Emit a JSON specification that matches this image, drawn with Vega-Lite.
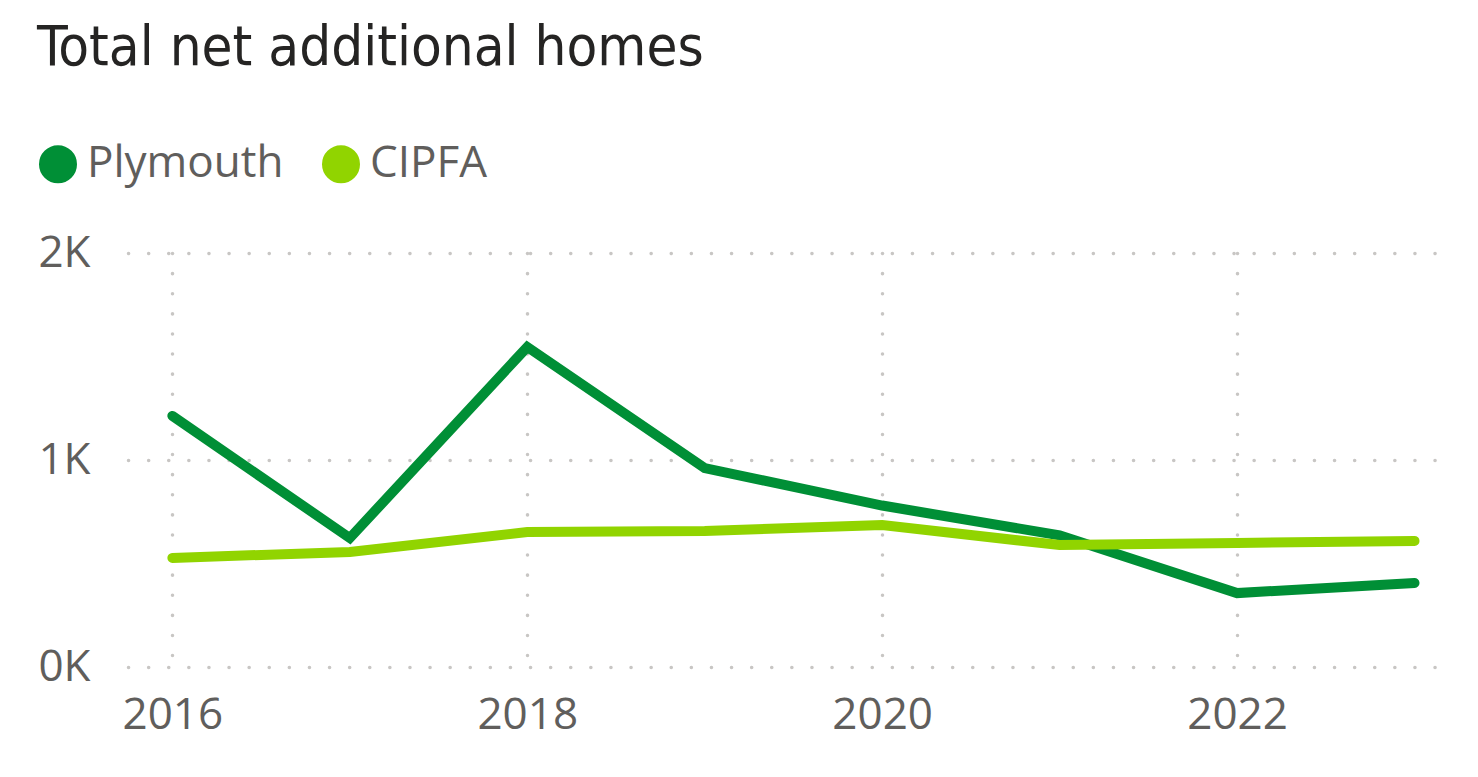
{
  "$schema": "https://vega.github.io/schema/vega-lite/v6.json",
  "width": 1322,
  "height": 414,
  "autosize": {"type": "none"},
  "padding": {"left": 128, "top": 253, "right": 28, "bottom": 110},
  "background": "#ffffff",
  "title": {
    "text": "Total net additional homes",
    "anchor": "start",
    "frame": "group",
    "font": "DejaVu Sans Condensed",
    "fontSize": 56,
    "fontWeight": "normal",
    "color": "#252423",
    "baseline": "alphabetic",
    "offset": 21,
    "dx": -91
  },
  "config": {
    "view": {"stroke": null},
    "axis": {
      "labelFont": "Open Sans",
      "labelFontSize": 44,
      "labelColor": "#605E5C",
      "domain": false,
      "ticks": false,
      "grid": true,
      "gridColor": "#C8C6C4",
      "gridDash": [0.1, 20],
      "gridCap": "round",
      "gridWidth": 3.5,
      "title": null
    }
  },
  "data": {
    "values": [
      {"year": 2016, "series": "Plymouth", "value": 1213},
      {"year": 2017, "series": "Plymouth", "value": 623},
      {"year": 2018, "series": "Plymouth", "value": 1546},
      {"year": 2019, "series": "Plymouth", "value": 961},
      {"year": 2020, "series": "Plymouth", "value": 780},
      {"year": 2021, "series": "Plymouth", "value": 636},
      {"year": 2022, "series": "Plymouth", "value": 357},
      {"year": 2023, "series": "Plymouth", "value": 406},
      {"year": 2016, "series": "CIPFA", "value": 527},
      {"year": 2017, "series": "CIPFA", "value": 556},
      {"year": 2018, "series": "CIPFA", "value": 652},
      {"year": 2019, "series": "CIPFA", "value": 657},
      {"year": 2020, "series": "CIPFA", "value": 686},
      {"year": 2021, "series": "CIPFA", "value": 589},
      {"year": 2022, "series": "CIPFA", "value": 599},
      {"year": 2023, "series": "CIPFA", "value": 609}
    ]
  },
  "mark": {"type": "line", "strokeWidth": 10, "strokeCap": "round"},
  "encoding": {
    "x": {
      "field": "year",
      "type": "quantitative",
      "scale": {"domain": [2015.75, 2023.2], "nice": false, "zero": false},
      "axis": {"values": [2016, 2018, 2020, 2022], "format": "d", "labelPadding": 26}
    },
    "y": {
      "field": "value",
      "type": "quantitative",
      "scale": {"domain": [0, 2000], "nice": false},
      "axis": {"values": [0, 1000, 2000], "labelExpr": "(datum.value / 1000) + 'K'", "labelPadding": 38}
    },
    "color": {
      "field": "series",
      "type": "nominal",
      "sort": ["Plymouth", "CIPFA"],
      "scale": {"domain": ["Plymouth", "CIPFA"], "range": ["#008F36", "#91D400"]},
      "legend": {
        "title": null,
        "orient": "none",
        "legendX": -92,
        "legendY": -111,
        "direction": "horizontal",
        "symbolType": "circle",
        "symbolSize": 361,
        "symbolStrokeWidth": 19,
        "labelFont": "Open Sans",
        "labelFontSize": 44,
        "labelColor": "#605E5C",
        "labelOffset": 7,
        "labelLimit": 400,
        "columnPadding": 9
      }
    }
  }
}
